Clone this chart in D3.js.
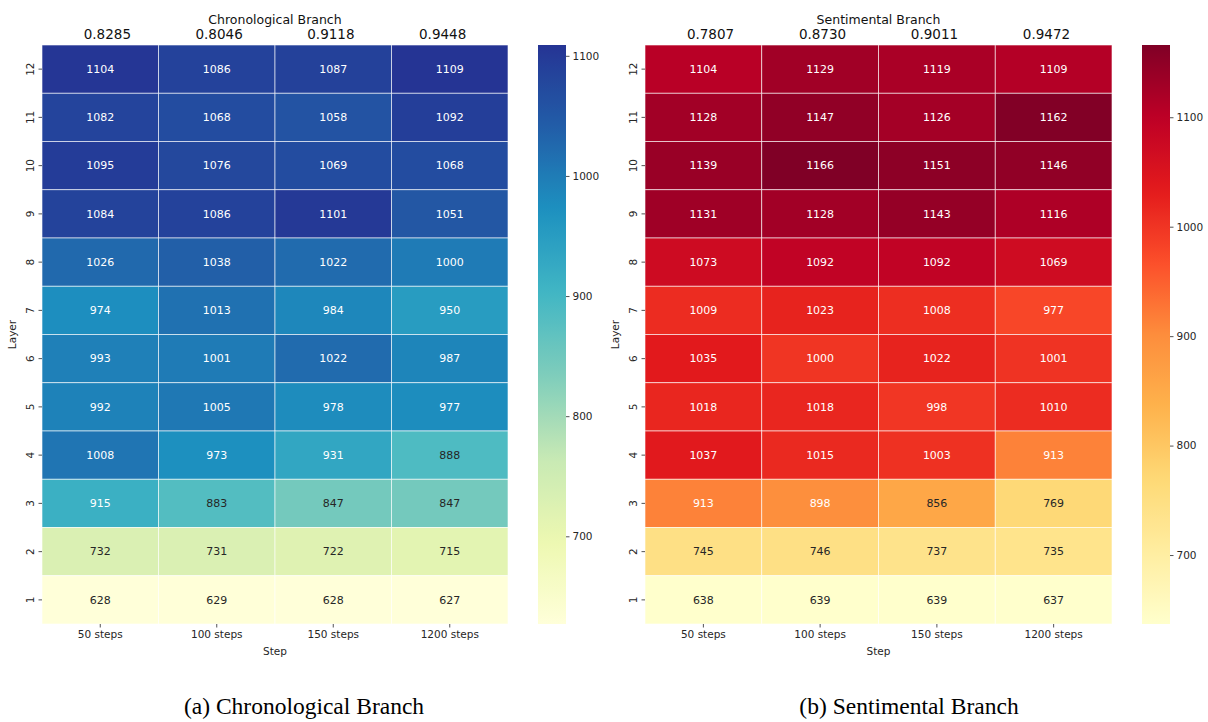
<!DOCTYPE html>
<html><head><meta charset="utf-8">
<script src="https://cdn.jsdelivr.net/npm/d3@7"></script>
<style>body{margin:0;background:#fff;} svg{display:block;}</style>
</head><body>
<svg id="chart" width="1208" height="722"></svg>
<script>
const steps = ["50 steps", "100 steps", "150 steps", "1200 steps"];
const layers = [12, 11, 10, 9, 8, 7, 6, 5, 4, 3, 2, 1];

const chronoScores = ["0.8285", "0.8046", "0.9118", "0.9448"];
const chronoValues = [
  [1104, 1086, 1087, 1109],
  [1082, 1068, 1058, 1092],
  [1095, 1076, 1069, 1068],
  [1084, 1086, 1101, 1051],
  [1026, 1038, 1022, 1000],
  [974, 1013, 984, 950],
  [993, 1001, 1022, 987],
  [992, 1005, 978, 977],
  [1008, 973, 931, 888],
  [915, 883, 847, 847],
  [732, 731, 722, 715],
  [628, 629, 628, 627]
];
const chronoTicks = [700, 800, 900, 1000, 1100];

const sentiScores = ["0.7807", "0.8730", "0.9011", "0.9472"];
const sentiValues = [
  [1104, 1129, 1119, 1109],
  [1128, 1147, 1126, 1162],
  [1139, 1166, 1151, 1146],
  [1131, 1128, 1143, 1116],
  [1073, 1092, 1092, 1069],
  [1009, 1023, 1008, 977],
  [1035, 1000, 1022, 1001],
  [1018, 1018, 998, 1010],
  [1037, 1015, 1003, 913],
  [913, 898, 856, 769],
  [745, 746, 737, 735],
  [638, 639, 639, 637]
];
const sentiTicks = [700, 800, 900, 1000, 1100];

const svg = d3.select("#chart");
const FONT = "DejaVu Sans, sans-serif";
const INK = "#262626";

function luminanceFloat(rgb) {
  const f = v => { v /= 255; return v <= 0.03928 ? v / 12.92 : Math.pow((v + 0.055) / 1.055, 2.4); };
  return 0.2126 * f(rgb[0]) + 0.7152 * f(rgb[1]) + 0.0722 * f(rgb[2]);
}

function makeRamp(palette) {
  const cols = palette.map(c => { const r = d3.rgb(c); return [r.r, r.g, r.b]; });
  const n = cols.length - 1;
  return t => {
    t = Math.max(0, Math.min(1, t));
    const s = t * n;
    const i = Math.min(n - 1, Math.floor(s));
    const f = s - i;
    return [0, 1, 2].map(k => cols[i][k] + (cols[i + 1][k] - cols[i][k]) * f);
  };
}
const toCss = c => d3.rgb(c[0], c[1], c[2]).formatHex();

function drawPanel(cfg) {
  const g = svg.append("g");
  const { x0, x1, y0, y1, values, scores, title, palette, ticks, cbx, cbw } = cfg;
  const flat = values.flat();
  const vmin = d3.min(flat), vmax = d3.max(flat);
  const ramp = makeRamp(palette);
  const norm = d3.scaleLinear().domain([vmin, vmax]).clamp(true);
  // 256-level lookup table like a colormap
  const colorF = v => ramp(Math.min(255, Math.floor(norm(v) * 256)) / 255);

  const x = d3.scaleBand().domain(steps).range([x0, x1]);
  const y = d3.scaleBand().domain(layers).range([y0, y1]);

  const rows = values.map((r, i) => r.map((v, j) => ({ layer: layers[i], step: steps[j], v })));
  const cells = g.append("g").selectAll("g").data(rows.flat()).join("g");
  cells.append("rect")
    .attr("x", d => x(d.step)).attr("y", d => y(d.layer))
    .attr("width", x.bandwidth()).attr("height", y.bandwidth())
    .attr("fill", d => toCss(colorF(d.v)))
    .attr("stroke", "rgba(255,255,255,0.75)").attr("stroke-width", 0.8);
  cells.append("text")
    .attr("x", d => x(d.step) + x.bandwidth() / 2)
    .attr("y", d => y(d.layer) + y.bandwidth() / 2)
    .attr("dy", "0.35em").attr("text-anchor", "middle")
    .attr("font-family", FONT).attr("font-size", 11)
    .attr("fill", d => luminanceFloat(colorF(d.v)) > 0.408 ? INK : "#ffffff")
    .text(d => d.v);

  // bottom axis
  const xa = g.append("g").attr("transform", `translate(0,${y1})`)
    .call(d3.axisBottom(x).tickSize(3.5).tickPadding(3));
  xa.select(".domain").remove();
  xa.selectAll("line").attr("stroke", INK).attr("stroke-width", 0.8);
  xa.selectAll("text").attr("font-family", FONT).attr("font-size", 10.5).attr("fill", INK);
  g.append("text").attr("x", (x0 + x1) / 2).attr("y", 655)
    .attr("text-anchor", "middle").attr("font-family", FONT).attr("font-size", 10.5).attr("fill", INK).text("Step");

  // left axis
  const ya = g.append("g").attr("transform", `translate(${x0},0)`)
    .call(d3.axisLeft(y).tickSize(3.5).tickPadding(3));
  ya.select(".domain").remove();
  ya.selectAll("line").attr("stroke", INK).attr("stroke-width", 0.8);
  ya.selectAll("text").attr("font-family", FONT).attr("font-size", 10.5).attr("fill", INK)
    .attr("text-anchor", "middle").attr("x", -11.5)
    .attr("transform", "rotate(-90,-11.5,0)").attr("dy", "0.35em");
  g.append("text").attr("transform", `translate(${x0 - 26},${(y0 + y1) / 2}) rotate(-90)`)
    .attr("text-anchor", "middle").attr("font-family", FONT).attr("font-size", 10.5).attr("fill", INK).text("Layer");

  // top score labels
  const xt = d3.scalePoint().domain(scores).range([x0, x1]).padding(0.585);
  g.selectAll(".score").data(scores).join("text")
    .attr("x", d => xt(d)).attr("y", 39)
    .attr("text-anchor", "middle").attr("font-family", FONT).attr("font-size", 13.5).attr("fill", "#111")
    .text(d => d);
  g.append("text").attr("x", (x0 + x1) / 2).attr("y", 24)
    .attr("text-anchor", "middle").attr("font-family", FONT).attr("font-size", 12.5).attr("fill", "#111")
    .text(title);

  // colorbar
  const gid = "grad" + cfg.id;
  const grad = svg.append("defs").append("linearGradient").attr("id", gid)
    .attr("x1", 0).attr("y1", 1).attr("x2", 0).attr("y2", 0);
  d3.range(0, 1.0001, 0.02).forEach(t => {
    grad.append("stop").attr("offset", t).attr("stop-color", toCss(ramp(t)));
  });
  g.append("rect").attr("x", cbx).attr("y", y0).attr("width", cbw).attr("height", y1 - y0)
    .attr("fill", `url(#${gid})`);
  const cy = d3.scaleLinear().domain([vmin, vmax]).range([y1, y0]);
  const ca = g.append("g").attr("transform", `translate(${cbx + cbw},0)`)
    .call(d3.axisRight(cy).tickValues(ticks).tickSize(3.5).tickPadding(3).tickFormat(d3.format("d")));
  ca.select(".domain").remove();
  ca.selectAll("line").attr("stroke", INK).attr("stroke-width", 0.8);
  ca.selectAll("text").attr("font-family", FONT).attr("font-size", 10.5).attr("fill", INK);

  // caption
  svg.append("text").attr("x", cfg.capX).attr("y", 714)
    .attr("text-anchor", "middle").attr("font-family", "Liberation Serif, Times New Roman, serif")
    .attr("font-size", 23.5).attr("fill", "#000").text(cfg.caption);
}

drawPanel({
  id: "a", x0: 42, x1: 508, y0: 45, y1: 624, cbx: 538, cbw: 28,
  values: chronoValues, scores: chronoScores, title: "Chronological Branch",
  palette: d3.schemeYlGnBu[9].slice(0, 8), ticks: chronoTicks,
  caption: "(a) Chronological Branch", capX: 304
});
drawPanel({
  id: "b", x0: 645, x1: 1112, y0: 45, y1: 624, cbx: 1142, cbw: 28,
  values: sentiValues, scores: sentiScores, title: "Sentimental Branch",
  palette: d3.schemeYlOrRd[9], ticks: sentiTicks,
  caption: "(b) Sentimental Branch", capX: 909
});
</script>
</body></html>
